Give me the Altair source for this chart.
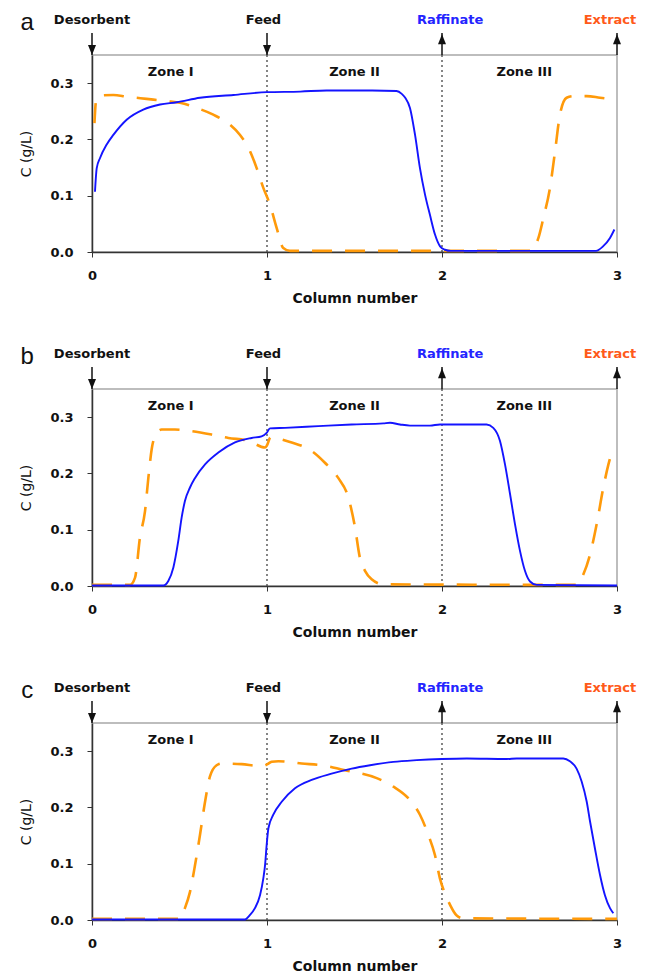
import altair as alt
import pandas as pd

# ---------------- data ----------------
a_blue_x = [0.017, 0.027, 0.046, 0.084, 0.122, 0.198, 0.293, 0.389, 0.484, 0.617, 0.808, 1.0, 1.19, 1.34, 1.60, 1.74, 1.77, 1.79, 1.817, 1.846, 1.874, 1.903, 1.931, 1.96, 1.989, 2.017, 2.05, 2.88, 2.92, 2.96, 2.985]
a_blue_y = [0.107, 0.149, 0.167, 0.191, 0.208, 0.235, 0.253, 0.262, 0.266, 0.274, 0.279, 0.284, 0.285, 0.287, 0.287, 0.286, 0.281, 0.274, 0.256, 0.208, 0.149, 0.102, 0.066, 0.031, 0.010, 0.004, 0.002, 0.002, 0.010, 0.025, 0.040]
a_orange_x = [0.014, 0.023, 0.046, 0.122, 0.198, 0.312, 0.427, 0.503, 0.598, 0.693, 0.789, 0.846, 0.903, 0.941, 0.979, 1.017, 1.055, 1.093, 1.131, 2.503, 2.551, 2.579, 2.617, 2.646, 2.674, 2.712, 2.751, 2.827, 2.903, 2.979]
a_orange_y = [0.229, 0.268, 0.278, 0.279, 0.276, 0.272, 0.268, 0.265, 0.256, 0.244, 0.226, 0.208, 0.179, 0.149, 0.114, 0.084, 0.043, 0.007, 0.002, 0.002, 0.025, 0.060, 0.114, 0.179, 0.244, 0.274, 0.277, 0.277, 0.274, 0.271]

b_blue_x = [0.0, 0.408, 0.436, 0.465, 0.493, 0.512, 0.531, 0.560, 0.589, 0.646, 0.722, 0.817, 0.912, 0.969, 0.998, 1.017, 1.103, 1.293, 1.484, 1.665, 1.703, 1.76, 1.817, 1.931, 1.988, 2.255, 2.293, 2.331, 2.360, 2.389, 2.417, 2.446, 2.474, 2.503, 2.541, 3.0]
b_blue_y = [0.001, 0.001, 0.009, 0.033, 0.080, 0.121, 0.151, 0.175, 0.192, 0.216, 0.237, 0.255, 0.263, 0.266, 0.272, 0.280, 0.281, 0.284, 0.287, 0.289, 0.290, 0.287, 0.285, 0.285, 0.287, 0.287, 0.281, 0.258, 0.216, 0.163, 0.110, 0.062, 0.027, 0.008, 0.002, 0.001]
b_orange_x = [0.0, 0.217, 0.246, 0.274, 0.303, 0.322, 0.341, 0.370, 0.398, 0.474, 0.570, 0.684, 0.779, 0.893, 0.989, 1.0, 1.02, 1.046, 1.141, 1.255, 1.331, 1.407, 1.465, 1.503, 1.531, 1.560, 1.598, 1.665, 2.77, 2.808, 2.846, 2.884, 2.922, 2.951, 2.979]
b_orange_y = [0.002, 0.002, 0.015, 0.086, 0.133, 0.192, 0.243, 0.272, 0.278, 0.278, 0.275, 0.269, 0.263, 0.258, 0.246, 0.250, 0.264, 0.263, 0.255, 0.240, 0.219, 0.192, 0.157, 0.104, 0.050, 0.027, 0.012, 0.003, 0.002, 0.021, 0.056, 0.110, 0.175, 0.216, 0.246]

c_blue_x = [0.0, 0.874, 0.903, 0.931, 0.960, 0.979, 0.989, 0.998, 1.008, 1.036, 1.084, 1.160, 1.255, 1.369, 1.484, 1.589, 1.722, 1.855, 1.998, 2.141, 2.369, 2.427, 2.693, 2.731, 2.769, 2.798, 2.827, 2.846, 2.874, 2.903, 2.931, 2.960, 2.979]
c_blue_y = [0.001, 0.001, 0.009, 0.021, 0.044, 0.074, 0.098, 0.133, 0.163, 0.187, 0.210, 0.234, 0.249, 0.260, 0.269, 0.275, 0.281, 0.284, 0.286, 0.287, 0.286, 0.287, 0.287, 0.282, 0.269, 0.246, 0.210, 0.175, 0.127, 0.080, 0.044, 0.021, 0.012]
c_orange_x = [0.0, 0.503, 0.531, 0.560, 0.589, 0.617, 0.646, 0.674, 0.712, 0.741, 0.855, 0.931, 0.969, 0.998, 1.027, 1.065, 1.198, 1.331, 1.446, 1.512, 1.627, 1.722, 1.817, 1.874, 1.922, 1.960, 1.988, 2.017, 2.046, 2.084, 2.122, 3.0]
c_orange_y = [0.002, 0.002, 0.021, 0.050, 0.098, 0.151, 0.210, 0.255, 0.275, 0.278, 0.277, 0.274, 0.273, 0.276, 0.281, 0.282, 0.278, 0.274, 0.266, 0.262, 0.252, 0.237, 0.213, 0.187, 0.151, 0.115, 0.074, 0.047, 0.027, 0.008, 0.003, 0.002]

port_names = ["Desorbent", "Feed", "Raffinate", "Extract"]
port_x = [0, 1, 2, 3]
port_label_x = [0.0, 0.98, 2.046, 2.96]
port_colors = ["#111111", "#111111", "#2424ff", "#ff5a1a"]
port_dir = ["down", "down", "up", "up"]
zone_names = ["Zone I", "Zone II", "Zone III"]
zone_x = [0.45, 1.5, 2.47]
zone_boundaries = [1, 2]
x_ticks = [0, 1, 2, 3]
y_ticks = [0.0, 0.1, 0.2, 0.3]
Y_TOP = 0.35
panel_letters = ["a", "b", "c"]

BLUE = "#1414ff"
ORANGE = "#ff9a0a"
FONT = "DejaVu Sans"

xscale = alt.Scale(domain=[0, 3], nice=False, zero=False)
yscale = alt.Scale(domain=[0, Y_TOP], nice=False)
xaxis = alt.Axis(values=x_ticks, title="Column number", format="d", grid=False,
                 labelFont=FONT, labelFontSize=13, labelFontWeight="bold", labelColor="#111",
                 titleFont=FONT, titleFontSize=14, titleFontWeight="bold", titleColor="#111",
                 tickSize=5, labelPadding=12, titlePadding=9, domainColor="#333",
                 tickColor="#333", domainWidth=1.5, labelFlush=False)
yaxis = alt.Axis(values=y_ticks, title="C (g/L)", format=".1f", grid=False,
                 labelFont=FONT, labelFontSize=13, labelFontWeight="bold", labelColor="#111",
                 titleFont=FONT, titleFontSize=14, titleFontWeight="normal", titleColor="#111",
                 tickSize=5, labelPadding=14, titlePadding=16, domainColor="#333",
                 tickColor="#333", domainWidth=1.5)


def X(field="x"):
    return alt.X(f"{field}:Q", scale=xscale, axis=xaxis)


def Y(field="c"):
    return alt.Y(f"{field}:Q", scale=yscale, axis=yaxis)


def panel(letter, bx, by, ox, oy):
    blue = pd.DataFrame({"x": bx, "c": by})
    orange = pd.DataFrame({"x": ox, "c": oy})
    bounds = pd.DataFrame({"x": zone_boundaries, "c": [0.0] * len(zone_boundaries),
                           "c2": [Y_TOP] * len(zone_boundaries)})
    dotted = alt.Chart(bounds).mark_rule(color="#444", strokeDash=[2, 3], strokeWidth=1.3).encode(
        x=X(), y=Y(), y2="c2:Q")
    l_orange = alt.Chart(orange).mark_line(color=ORANGE, strokeWidth=2.6, strokeDash=[20, 13],
                                           interpolate="monotone").encode(x=X(), y=Y())
    l_blue = alt.Chart(blue).mark_line(color=BLUE, strokeWidth=1.9,
                                       interpolate="monotone").encode(x=X(), y=Y())
    ports = pd.DataFrame({"name": port_names, "x": port_x, "lx": port_label_x,
                          "col": port_colors, "dir": port_dir,
                          "c": [Y_TOP] * 4, "c2": [Y_TOP + 0.039] * 4,
                          "head": [Y_TOP + 0.009 if d == "down" else Y_TOP + 0.028 for d in port_dir],
                          "ly": [Y_TOP + 0.055] * 4})
    shafts = alt.Chart(ports).mark_rule(color="#111", strokeWidth=1.5).encode(
        x=X(), y=Y(), y2="c2:Q")
    heads_down = alt.Chart(ports).transform_filter(alt.datum.dir == "down").mark_point(
        shape="M-0.8,-1L0.8,-1L0,1Z", size=100, filled=True, color="#111", opacity=1).encode(
        x=X(), y=Y("head"))
    heads_up = alt.Chart(ports).transform_filter(alt.datum.dir == "up").mark_point(
        shape="M-0.8,1L0.8,1L0,-1Z", size=100, filled=True, color="#111", opacity=1).encode(
        x=X(), y=Y("head"))
    labels = alt.Chart(ports).mark_text(font=FONT, fontSize=13, fontWeight="bold",
                                        baseline="alphabetic", align="center").encode(
        x=X("lx"), y=Y("ly"), text="name:N", color=alt.Color("col:N", scale=None))
    zones = pd.DataFrame({"name": zone_names, "x": zone_x, "c": [Y_TOP - 0.031] * 3})
    zone_t = alt.Chart(zones).mark_text(font=FONT, fontSize=13, fontWeight="bold",
                                        baseline="middle", color="#111").encode(
        x=X(), y=Y(), text="name:N")
    let = pd.DataFrame({"name": [letter], "x": [-0.37], "c": [Y_TOP + 0.044]})
    letter_t = alt.Chart(let).mark_text(font="Liberation Sans", fontSize=24, baseline="alphabetic",
                                        color="#111").encode(x=X(), y=Y(), text="name:N")
    return alt.layer(dotted, l_orange, l_blue, shafts, heads_down, heads_up, labels, zone_t,
                     letter_t).properties(width=525, height=197)


pa = panel(panel_letters[0], a_blue_x, a_blue_y, a_orange_x, a_orange_y)
pb = panel(panel_letters[1], b_blue_x, b_blue_y, b_orange_x, b_orange_y)
pc = panel(panel_letters[2], c_blue_x, c_blue_y, c_orange_x, c_orange_y)

chart = alt.vconcat(pa, pb, pc, spacing=137, bounds="flush").configure_view(
    stroke="#a8a8a8", strokeWidth=1.5).properties(
    padding={"top": 10, "left": 19, "right": 2, "bottom": 5}, background="white")

chart.save("out.html", embed_options={"renderer": "svg", "actions": False})
